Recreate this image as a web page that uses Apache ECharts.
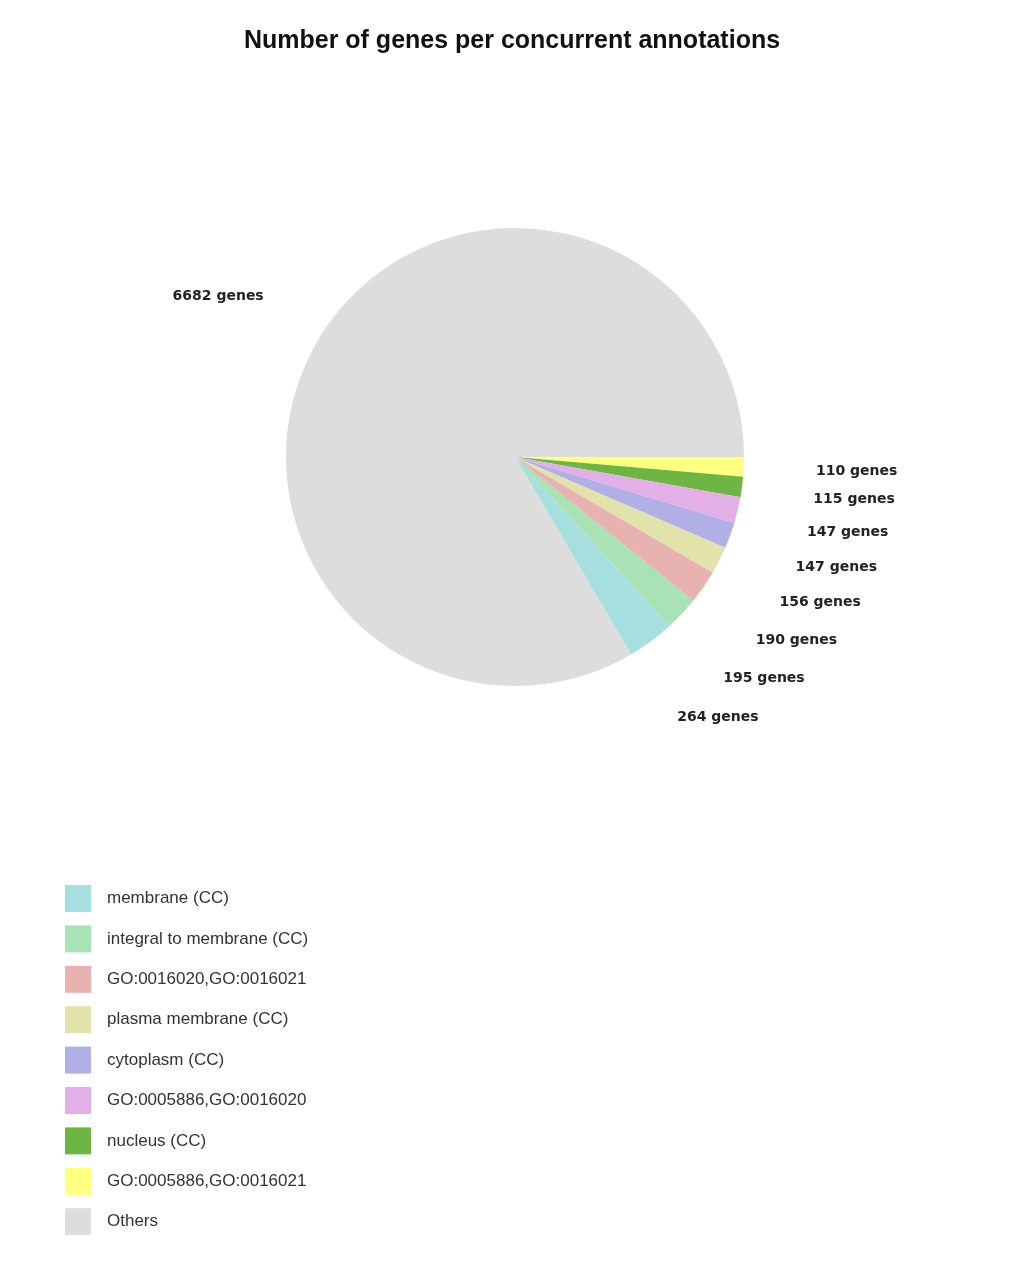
<!DOCTYPE html>
<html>
<head>
<meta charset="utf-8">
<script src="https://cdn.jsdelivr.net/npm/echarts@6/dist/echarts.min.js"></script>
<style>
  html, body { margin: 0; padding: 0; background: #fff; }
  #container { width: 1024px; height: 1275px; }
</style>
</head>
<body>
<div id="container"></div>
<script>
// legend order (as in the reference legend)
var categories = [
	'membrane (CC)',
	'integral to membrane (CC)',
	'GO:0016020,GO:0016021',
	'plasma membrane (CC)',
	'cytoplasm (CC)',
	'GO:0005886,GO:0016020',
	'nucleus (CC)',
	'GO:0005886,GO:0016021',
	'Others'
];
var geneCounts = [264, 195, 190, 156, 147, 147, 115, 110, 6682];
var sliceColors = ['#a6dfdf', '#a9e2b4', '#e8b2b0', '#e2e2ab', '#b0b0e6', '#e2b0e6', '#6db644', '#ffff80', '#dddddd'];

// the pie is drawn clockwise from 3 o'clock, smallest slice first, Others last
var pieOrder = [7, 6, 5, 4, 3, 2, 1, 0, 8];
var pieData = pieOrder.map(function (i) {
	return {
		name: categories[i],
		value: geneCounts[i],
		itemStyle: { color: sliceColors[i] }
	};
});

var pieCenter = [515, 457];
// labels sit centred on a slightly flattened ring around the pie
var labelRing = [342, 323];

var option = {
	backgroundColor: '#fff',
	animation: false,
	title: {
		text: 'Number of genes per concurrent annotations',
		left: 'center',
		top: 24,
		textStyle: {
			fontFamily: 'Liberation Sans',
			fontSize: 25,
			fontWeight: 'bold',
			color: '#111'
		}
	},
	legend: {
		orient: 'vertical',
		left: 60,
		top: 880,
		itemWidth: 26,
		itemHeight: 27,
		itemGap: 13.4,
		icon: 'rect',
		data: categories,
		textStyle: {
			fontFamily: 'Liberation Sans',
			fontSize: 17,
			color: '#333',
			padding: [0, 0, 0, 11]
		}
	},
	series: [
		{
			type: 'pie',
			center: pieCenter,
			radius: 229,
			startAngle: 0,
			clockwise: true,
			avoidLabelOverlap: false,
			data: pieData,
			label: {
				show: true,
				position: 'outside',
				formatter: '{c} genes',
				fontFamily: 'DejaVu Sans',
				fontSize: 14,
				fontWeight: 'bold',
				color: '#222'
			},
			// kept only to get each slice's mid-angle point, not drawn
			labelLine: { show: true, length: 20, length2: 0, lineStyle: { opacity: 0 } },
			labelLayout: function (p) {
				var pts = p.labelLinePoints;
				if (!pts) return {};
				var a = Math.atan2(pts[0][1] - pieCenter[1], pts[0][0] - pieCenter[0]);
				return {
					x: pieCenter[0] + labelRing[0] * Math.cos(a),
					y: pieCenter[1] + labelRing[1] * Math.sin(a),
					align: 'center',
					verticalAlign: 'middle'
				};
			},
			emphasis: { disabled: true }
		}
	]
};

var myChart = echarts.init(document.getElementById('container'));
myChart.setOption(option);
</script>
</body>
</html>
